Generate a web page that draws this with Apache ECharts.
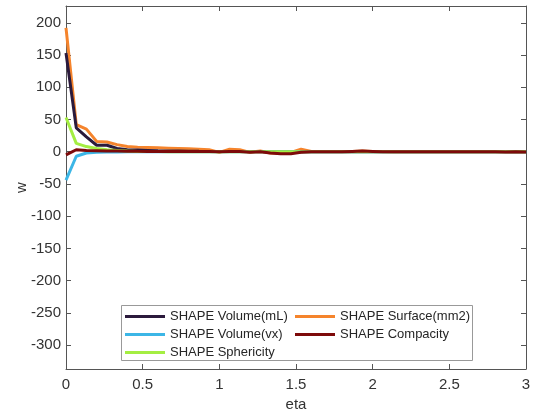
<!DOCTYPE html>
<html>
<head>
<meta charset="utf-8">
<script src="https://cdn.jsdelivr.net/npm/echarts@6/dist/echarts.min.js"></script>
<style>html,body{margin:0;padding:0;background:#fff}#c{width:534px;height:420px}</style>
</head>
<body>
<div id="c"></div>
<script>
var eta = [0, 0.067, 0.133, 0.2, 0.267, 0.333, 0.4, 0.467, 0.533, 0.6, 0.667, 0.733, 0.8, 0.867, 0.933, 1.0,
  1.067, 1.133, 1.2, 1.267, 1.333, 1.4, 1.467, 1.533, 1.6, 1.667, 1.733, 1.8, 1.867, 1.933, 2.0,
  2.067, 2.133, 2.2, 2.267, 2.333, 2.4, 2.467, 2.533, 2.6, 2.667, 2.733, 2.8, 2.867, 2.933, 3.0];
var volumeML = [153, 37, 23, 10, 10, 5, 3, 2.5, 2, 1.5, 1.2, 1, 0.8, 0.6, 0.5, 0.4,
  0.3, 0.3, 0.2, 0.2, 0.1, 0.1, 0.1, 0, 0, 0, 0, 0, 0, 0, 0,
  0, 0, 0, 0, 0, 0, 0, 0, 0, 0, 0, 0, 0, 0, 0];
var surface = [192, 42, 35, 16, 15, 11, 8, 7, 6.5, 6, 5.5, 5, 4.5, 4, 3, -1,
  4, 3, -1, 1, -2, -2, -1, 4, 0.5, 0.3, 0.2, 0.2, 0.3, 1, 0.3,
  0.2, 0.1, 0.1, 0.1, 0, 0, 0, 0, 0, 0, 0, 0, 0, 0, 0];
var volumeVX = [-44, -7, -2, -1, -0.5, -0.3, -0.2, -0.1, 0, 0, 0, 0, 0, 0, 0, 0,
  0, 0, 0, 0, 0, 0, 0, 0, 0, 0, 0, 0, 0, 0, 0,
  0, 0, 0, 0, 0, 0, 0, 0, 0, 0, 0, 0, 0, 0, 0];
var compacity = [-5, 3, 2, 1.5, 1, 1, 0.8, 0.6, 0.5, 0.4, 0.4, 0.3, 0.3, 0.2, 0.2, 0,
  0.5, 0.3, -1, 0, -2, -3, -3, -1, 0, 0, 0, 0, 0.5, 1, 0.5,
  0, 0, 0, 0, 0, 0, 0, 0, 0, 0, 0, 0, -0.5, 0, -0.5];
var sphericity = [53, 13, 8, 5, 3, 2, 1, 0.5, 0.3, 0.2, 0.1, 0, 0, 0, 0, 0,
  0, 0, 0, 0, 0, 0, 0, 0, 0, 0, 0, 0, 0, 0, 0,
  0, 0, 0, 0, 0, 0, 0, 0, 0, 0, 0, 0, 0, 0, 0];
var names = ['SHAPE Volume(mL)', 'SHAPE Surface(mm2)', 'SHAPE Volume(vx)', 'SHAPE Compacity', 'SHAPE Sphericity'];
var yTicks = [-300, -250, -200, -150, -100, -50, 0, 50, 100, 150, 200];

function pairs(v) { return eta.map(function (x, i) { return [x, v[i]]; }); }

var axisCol = '#555';
var txtCol = '#333';
var chart = echarts.init(document.getElementById('c'), null, {renderer: 'canvas'});
var lineSeries = function (name, data, color, z) {
  return {
    name: name, type: 'line', data: pairs(data), showSymbol: false, symbol: 'none',
    lineStyle: {width: 3, color: color}, itemStyle: {color: color}, z: z, animation: false
  };
};
var legendBase = {
  orient: 'vertical', top: 310, padding: 0,
  itemGap: 5, itemWidth: 40, itemHeight: 3, icon: 'rect', z: 10,
  textStyle: {fontFamily: 'Liberation Sans', fontSize: 13, color: '#262626', lineHeight: 12}
};
chart.setOption({
  animation: false,
  grid: {left: 66, right: 8, top: 6, bottom: 51},
  graphic: [{
    type: 'rect', left: 121, top: 305, z: 5,
    shape: {width: 351, height: 55},
    style: {fill: '#fff', stroke: '#999', lineWidth: 1}
  }],
  xAxis: [{
    type: 'value', min: 0, max: 3, interval: 0.5,
    name: 'eta', nameLocation: 'middle', nameGap: 27,
    nameTextStyle: {fontFamily: 'Liberation Sans', fontSize: 15, color: txtCol},
    axisLine: {onZero: false, lineStyle: {color: axisCol, width: 1}},
    axisTick: {inside: true, length: 5, lineStyle: {color: axisCol}},
    axisLabel: {fontFamily: 'Liberation Sans', fontSize: 15, color: txtCol, margin: 8},
    splitLine: {show: false}
  }, {
    type: 'value', min: 0, max: 3, interval: 0.5, position: 'top',
    axisLine: {onZero: false, lineStyle: {color: axisCol, width: 1}},
    axisTick: {inside: true, length: 5, lineStyle: {color: axisCol}},
    axisLabel: {show: false}, splitLine: {show: false}
  }],
  yAxis: [{
    type: 'value', min: -337, max: 226,
    name: 'w', nameLocation: 'middle', nameGap: 37, nameMoveOverlap: false,
    nameTextStyle: {fontFamily: 'Liberation Sans', fontSize: 15, color: txtCol},
    axisLine: {onZero: false, lineStyle: {color: axisCol, width: 1}},
    axisTick: {inside: true, length: 5, customValues: yTicks, lineStyle: {color: axisCol}},
    axisLabel: {fontFamily: 'Liberation Sans', fontSize: 15, color: txtCol, margin: 5, customValues: yTicks},
    splitLine: {show: false}
  }, {
    type: 'value', min: -337, max: 226, position: 'right',
    axisLine: {onZero: false, lineStyle: {color: axisCol, width: 1}},
    axisTick: {inside: true, length: 5, customValues: yTicks, lineStyle: {color: axisCol}},
    axisLabel: {show: false, customValues: yTicks}, splitLine: {show: false}
  }],
  legend: [
    Object.assign({}, legendBase, {left: 125, data: [names[0], names[2], names[4]]}),
    Object.assign({}, legendBase, {left: 295, data: [names[1], names[3]]})
  ],
  series: [
    lineSeries(names[0], volumeML, '#2b1a3c', 2),
    lineSeries(names[1], surface, '#f5842c', 1),
    lineSeries(names[2], volumeVX, '#3cb6e6', 3),
    lineSeries(names[4], sphericity, '#a4ee42', 4),
    lineSeries(names[3], compacity, '#7d0a0a', 5)
  ]
});
</script>
</body>
</html>
